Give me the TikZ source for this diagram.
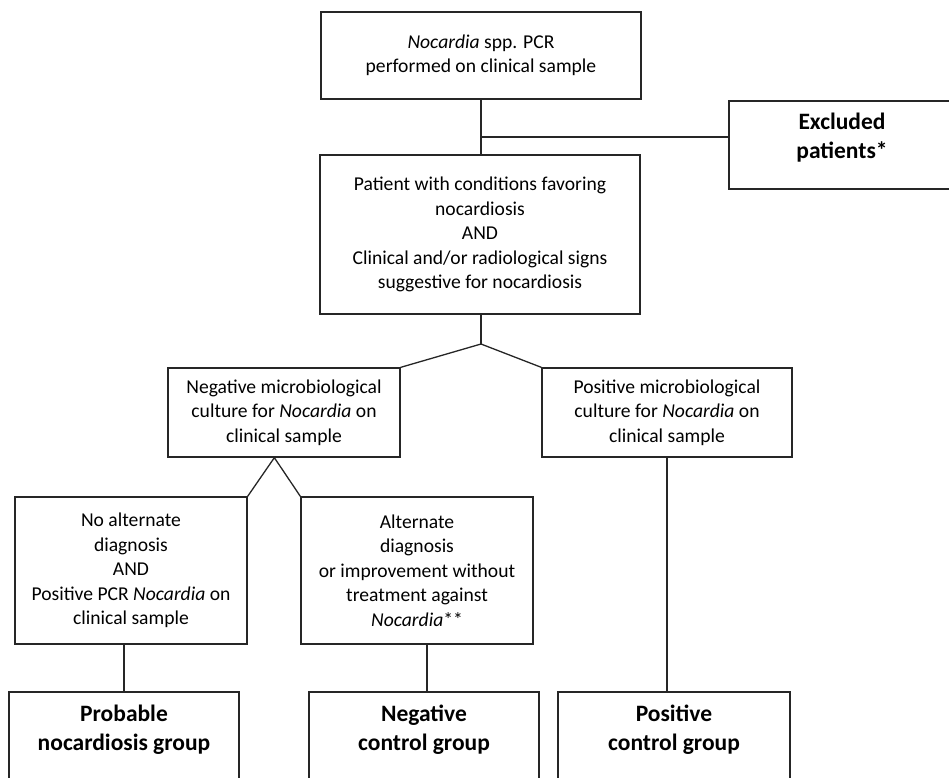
\documentclass[tikz,border=0pt]{standalone}
\usepackage{fontspec}
\setmainfont{Carlito}
\begin{document}
\begin{tikzpicture}[x=1pt,y=-1pt,
  box/.style={draw=black!85,line width=1.3pt,rectangle,inner sep=0pt,align=center,
    font=\fontsize{19.6}{24.5}\selectfont},
  bigtxt/.style={align=center,inner sep=0pt,font=\fontsize{23.5}{29}\selectfont\bfseries},
  conn/.style={draw=black!85,line width=1.3pt}]
\useasboundingbox (0,0) rectangle (949,777);
\clip (0,0) rectangle (949,777);
% boxes
\node[box,minimum width=320pt,minimum height=87pt] (top) at (481,55.5)
  {\textit{Nocardia} spp. PCR\\performed on clinical sample};
\node[box,minimum width=226pt,minimum height=88pt] (excl) at (842,145) {};
\node[bigtxt] (exclt) at (842,138) {Excluded\\patients*};
\node[box,minimum width=320pt,minimum height=159pt] (mid) at (480,234.5)
  {Patient with conditions favoring\\nocardiosis\\AND\\Clinical and/or radiological signs\\suggestive for nocardiosis};
\node[box,minimum width=232pt,minimum height=89pt] (negc) at (284,412.5)
  {Negative microbiological\\culture for \textit{Nocardia} on\\clinical sample};
\node[box,minimum width=250pt,minimum height=89pt] (posc) at (667,412.5)
  {Positive microbiological\\culture for \textit{Nocardia} on\\clinical sample};
\node[box,minimum width=232pt,minimum height=147pt] (noalt) at (131,570.5)
  {No alternate\\diagnosis\\AND\\Positive PCR \textit{Nocardia} on\\clinical sample};
\node[box,minimum width=232pt,minimum height=147pt] (alt) at (417,570.5)
  {Alternate\\diagnosis\\or improvement without\\treatment against\\\textit{Nocardia}**};
\node[box,minimum width=230pt,minimum height=110pt] (prob) at (124,747) {};
\node[box,minimum width=230pt,minimum height=110pt] (negg) at (424,747) {};
\node[box,minimum width=232pt,minimum height=110pt] (posg) at (674,747) {};
\node[bigtxt] (probt) at (124,730) {Probable\\nocardiosis group};
\node[bigtxt] (neggt) at (424,730) {Negative\\control group};
\node[bigtxt] (posgt) at (674,730) {Positive\\control group};
% connectors
\coordinate (j1) at (481,137);
\coordinate (apex1) at (481,344);
\coordinate (apex2) at ([xshift=107pt]negc.south west);
\draw[conn] (top.south -| j1) -- (j1 |- mid.north);
\draw[conn] (j1) -- (j1 -| excl.west);
\draw[conn] (mid.south -| apex1) -- (apex1);
\draw[conn] (negc.north east) -- (apex1) -- (posc.north west);
\draw[conn] (noalt.north east) -- (apex2) -- (alt.north west);
\draw[conn] (prob.north |- noalt.south) -- (prob.north);
\draw[conn] ([xshift=10pt]alt.south) -- ([xshift=10pt]alt.south |- negg.north);
\draw[conn] (posc.south) -- (posc.south |- posg.north);
\end{tikzpicture}
\end{document}
